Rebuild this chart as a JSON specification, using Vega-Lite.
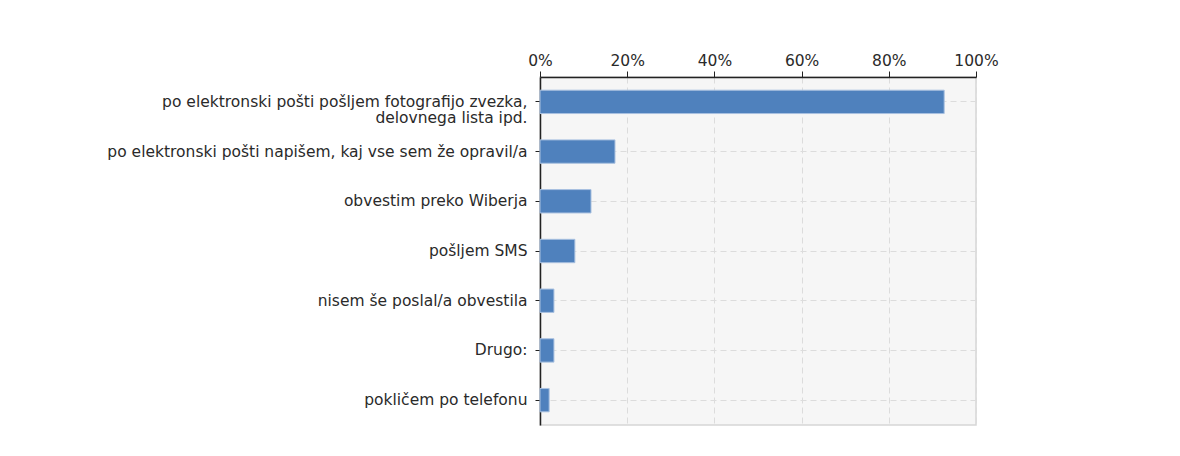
{
  "$schema": "https://vega.github.io/schema/vega-lite/v6.json",
  "width": 436,
  "height": 348,
  "autosize": {"type": "none"},
  "padding": {"left": 540, "top": 77, "right": 204, "bottom": 31},
  "background": "white",
  "data": {
    "values": [
      {"odgovor": "po elektronski pošti pošljem fotografijo zvezka,|delovnega lista ipd.", "delez": 0.927},
      {"odgovor": "po elektronski pošti napišem, kaj vse sem že opravil/a", "delez": 0.172},
      {"odgovor": "obvestim preko Wiberja", "delez": 0.117},
      {"odgovor": "pošljem SMS\u00a0", "delez": 0.08},
      {"odgovor": "nisem še poslal/a obvestila", "delez": 0.032},
      {"odgovor": "Drugo:", "delez": 0.032},
      {"odgovor": "pokličem po telefonu", "delez": 0.021}
    ]
  },
  "mark": {"type": "bar", "height": {"band": 0.47}, "fill": "#4f81bd", "stroke": "#a9c1e0", "strokeWidth": 1},
  "encoding": {
    "y": {
      "field": "odgovor",
      "type": "nominal",
      "sort": null,
      "scale": {"paddingInner": 0, "paddingOuter": 0},
      "axis": {
        "title": null,
        "bandPosition": 0.5,
        "labelExpr": "split(datum.label, '|')",
        "labelFont": "DejaVu Sans",
        "labelFontSize": 15.5,
        "labelColor": "#2a2a2a",
        "labelPadding": 8,
        "labelLimit": 600,
        "labelLineHeight": 16.5,
        "tickSize": 5,
        "tickColor": "#222",
        "domainColor": "#222",
        "domainWidth": 1.5,
        "grid": true,
        "gridDash": [6, 4],
        "gridColor": "#dcdcdc"
      }
    },
    "x": {
      "field": "delez",
      "type": "quantitative",
      "scale": {"domain": [0, 1], "nice": false},
      "axis": {
        "orient": "top",
        "title": null,
        "format": ".0%",
        "values": [0, 0.2, 0.4, 0.6, 0.8, 1],
        "labelFont": "DejaVu Sans",
        "labelFontSize": 15.5,
        "labelColor": "#2a2a2a",
        "labelPadding": 3,
        "labelFlush": false,
        "labelOverlap": false,
        "tickSize": 6,
        "tickColor": "#222",
        "domainColor": "#222",
        "domainWidth": 1.5,
        "grid": true,
        "gridDash": [6, 4],
        "gridColor": "#dcdcdc"
      }
    }
  },
  "config": {
    "view": {"fill": "#f6f6f6", "stroke": "#d6d6d6", "strokeWidth": 1.5}
  }
}
